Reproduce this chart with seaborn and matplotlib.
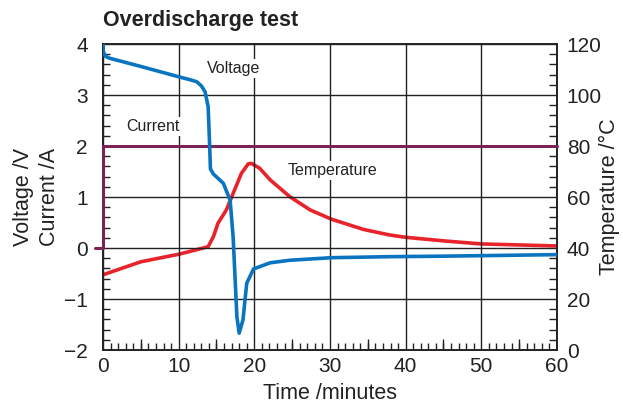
import matplotlib
matplotlib.use('Agg')
import matplotlib.pyplot as plt
from matplotlib.ticker import MultipleLocator
import pandas as pd
import seaborn as sns

# values
time_v = [0, 0.05, 0.3, 0.9, 5, 10.2, 11.5, 12.4, 13.0, 13.5, 13.9, 14.1, 14.2, 14.6, 15.9, 16.8,
          17.2, 17.7, 18.0, 18.5, 19.0, 19.9, 22.1, 24.7, 30.2, 37.9, 45, 50, 60]
voltage = [4.08, 3.85, 3.76, 3.72, 3.56, 3.35, 3.30, 3.26, 3.18, 3.06, 2.77, 2.0, 1.55, 1.45, 1.27,
           0.94, 0.22, -1.35, -1.67, -1.41, -0.69, -0.41, -0.29, -0.24, -0.19, -0.17, -0.16, -0.15,
           -0.13]

time_t = [0, 5, 10.1, 13.9, 14.6, 15.2, 16.3, 17.2, 18.3, 19.2, 19.6, 20.7, 22.1, 24.7, 27.4,
          30.2, 34.4, 37.9, 40, 45, 50, 55, 60]
temperature = [29.5, 34.6, 37.6, 40.5, 44.5, 49.7, 54.9, 61.4, 69.3, 73.0, 73.2, 71.3, 66.7, 60.1,
               54.9, 51.3, 47.3, 45.1, 44.2, 42.8, 41.6, 41.2, 40.8]

time_c = [-1.1, 0, 0, 60]
current = [0, 0, 2, 2]

sns.set_style('ticks')
plt.rcParams['font.family'] = ['Liberation Sans', 'DejaVu Sans']
plt.rcParams['axes.unicode_minus'] = True

fig = plt.figure(figsize=(6.23, 4.03), dpi=100)
ax = fig.add_axes([0.1653, 0.1315, 0.7287, 0.7593])
ax2 = ax.twinx()

df_v = pd.DataFrame({'t': time_v, 'v': voltage})
df_c = pd.DataFrame({'t': time_c, 'c': current})
df_t = pd.DataFrame({'t': time_t, 'T': temperature})

sns.lineplot(data=df_t, x='t', y='T', ax=ax2, sort=False, estimator=None,
             color='#e8232b', lw=2.6)
sns.lineplot(data=df_c, x='t', y='c', ax=ax, sort=False, estimator=None,
             color='#7b2352', lw=2.2, zorder=3)
ax.lines[-1].set_clip_on(False)
sns.lineplot(data=df_v, x='t', y='v', ax=ax, sort=False, estimator=None,
             color='#0a74c0', lw=2.6, zorder=4)

ax.set_xlim(0, 60)
ax.set_ylim(-2, 4)
ax2.set_ylim(0, 120)
ax.set_zorder(ax2.get_zorder() + 1)
ax.patch.set_visible(False)

ax.xaxis.set_major_locator(MultipleLocator(10))
ax.xaxis.set_minor_locator(MultipleLocator(1))
ax.yaxis.set_major_locator(MultipleLocator(1))
ax.yaxis.set_minor_locator(MultipleLocator(0.2))
ax2.yaxis.set_major_locator(MultipleLocator(20))
ax2.yaxis.set_minor_locator(MultipleLocator(4))

ax.set_axisbelow(True)
ax.grid(True, which='major', color='#222222', lw=1.0)
ax.tick_params(which='major', direction='in', length=0, labelsize=15, pad=5, colors='#222222')
ax.tick_params(axis='y', which='major', pad=11)
ax.tick_params(which='minor', direction='in', length=5, width=1, colors='#222222')
ax.tick_params(axis='x', which='minor', top=False)
ax2.tick_params(which='major', direction='in', length=0, labelsize=15, pad=7, colors='#222222')
ax2.tick_params(which='minor', direction='in', length=6, width=1, colors='#222222')

sec = ax.secondary_xaxis('bottom')
sec.set_xticks([5, 15, 25, 35, 45, 55])
sec.set_xticklabels([])
sec.tick_params(direction='in', length=8, width=1, colors='#222222')
sec.spines['bottom'].set_visible(False)

for a in (ax, ax2):
    for s in a.spines.values():
        s.set_color('#222222')
        s.set_linewidth(1.2)

ax.set_xlabel('Time /minutes', fontsize=15.5, color='#222222', labelpad=5)
ax.set_ylabel('Voltage /V\nCurrent /A', fontsize=15.5, color='#222222', linespacing=1.3, labelpad=3)
ax2.set_ylabel('Temperature /°C', fontsize=15.5, color='#222222', labelpad=-2)
ax.set_title('Overdischarge test', loc='left', fontsize=15.5, fontweight='bold', pad=13, color='#222222')

box = dict(facecolor='white', edgecolor='none', pad=1.5)
ax.text(17.2, 3.52, 'Voltage', fontsize=11.5, ha='center', va='center', bbox=box, zorder=2.5, color='#222222')
ax.text(6.6, 2.38, 'Current', fontsize=11.5, ha='center', va='center', bbox=box, zorder=2.5, color='#222222')
ax.text(30.3, 1.52, 'Temperature', fontsize=11.5, ha='center', va='center', bbox=box, zorder=2.5, color='#222222')

fig.savefig('out.png', dpi=100)
